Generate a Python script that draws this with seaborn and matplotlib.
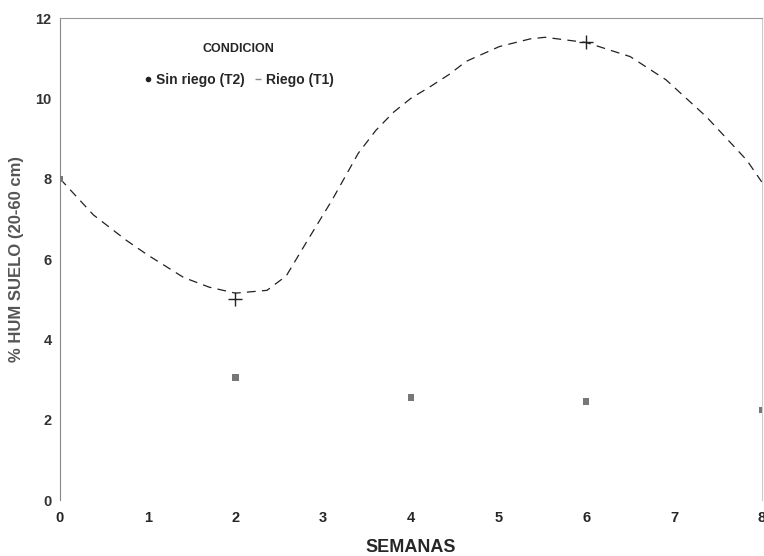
import matplotlib
matplotlib.use("Agg")
import matplotlib.pyplot as plt
from matplotlib.lines import Line2D
import seaborn as sns
import pandas as pd

# Sin riego (T2) measured points
semanas_t2 = [0, 2, 4, 6, 8]
sin_riego_t2 = [8.0, 3.05, 2.55, 2.45, 2.25]

# Riego (T1): smooth curve
semanas_t1_curva = [0.0, 0.38, 0.76, 1.0, 1.41, 1.7, 2.0, 2.36, 2.58, 2.81,
                    3.10, 3.40, 3.6, 3.8, 4.0, 4.22, 4.44, 4.63, 5.01, 5.36,
                    5.53, 6.0, 6.50, 6.91, 7.37, 7.83, 8.0]
riego_t1_curva = [8.0, 7.1, 6.46, 6.1, 5.54, 5.3, 5.15, 5.22, 5.58, 6.42,
                  7.46, 8.63, 9.2, 9.65, 10.0, 10.29, 10.6, 10.92, 11.29, 11.48,
                  11.52, 11.39, 11.04, 10.46, 9.54, 8.46, 7.92]
# Riego (T1) visible "+" markers
semanas_t1_marcas = [2, 6]
riego_t1_marcas = [5.0, 11.4]

x_ticks = [0, 1, 2, 3, 4, 5, 6, 7, 8]
y_ticks = [0, 2, 4, 6, 8, 10, 12]

df_t2 = pd.DataFrame({"SEMANAS": semanas_t2, "HUM": sin_riego_t2})
df_t1 = pd.DataFrame({"SEMANAS": semanas_t1_curva, "HUM": riego_t1_curva})
df_t1m = pd.DataFrame({"SEMANAS": semanas_t1_marcas, "HUM": riego_t1_marcas})

sns.set_theme(style="white")
plt.rcParams["font.family"] = ["Liberation Sans", "DejaVu Sans"]

fig = plt.figure(figsize=(7.64, 5.56), dpi=100)
ax = fig.add_axes([0.0785, 0.1007, 0.9185, 0.8669])

sns.lineplot(data=df_t1, x="SEMANAS", y="HUM", color="#222222", lw=0.9,
             ax=ax, sort=True)
ax.lines[-1].set_linestyle((0, (7, 5)))
sns.scatterplot(data=df_t1m, x="SEMANAS", y="HUM", marker="+", s=110,
                color="#222222", linewidth=1.0, ax=ax, zorder=3)
sns.scatterplot(data=df_t2, x="SEMANAS", y="HUM", marker="s", s=20,
                color="#777777", edgecolor="none", ax=ax, zorder=3)

ax.set_xlim(0, 8)
ax.set_ylim(0, 12)
ax.set_xticks(x_ticks)
ax.set_yticks(y_ticks)
ax.set_xticklabels([str(v) for v in x_ticks], fontweight="bold", fontsize=10.5)
ax.set_yticklabels([str(v) for v in y_ticks], fontweight="bold", fontsize=10.5,
                   color="#333333")
ax.tick_params(axis="x", pad=8, length=0)
ax.tick_params(axis="y", pad=6, length=0)

ax.spines["bottom"].set_visible(False)
ax.spines["right"].set_color("#cccccc")
ax.spines["right"].set_linewidth(0.8)
ax.spines["left"].set_color("#888888")
ax.spines["left"].set_linewidth(0.8)
ax.spines["top"].set_color("#999999")
ax.spines["top"].set_linewidth(0.8)

ax.set_xlabel("SEMANAS", fontweight="bold", fontsize=13, labelpad=10)
ax.set_ylabel("% HUM SUELO (20-60 cm)", fontweight="bold", fontsize=12,
              color="#555555", labelpad=8)

handles = [
    Line2D([], [], marker="o", ls="none", color="#222222", markersize=3),
    Line2D([], [], marker="_", ls="none", color="#888888", markersize=5),
]
leg = ax.legend(handles, ["Sin riego (T2)", "Riego (T1)"], title="CONDICION",
                ncol=2, frameon=False, loc="upper left",
                bbox_to_anchor=(0.10, 0.975), prop=dict(weight="bold", size=10),
                handletextpad=0.15, columnspacing=0.6, handlelength=0.8)
leg.get_title().set_fontweight("bold")
leg.get_title().set_fontsize(9)
leg._legend_box.sep = 13

fig.savefig("out.png", dpi=100)
